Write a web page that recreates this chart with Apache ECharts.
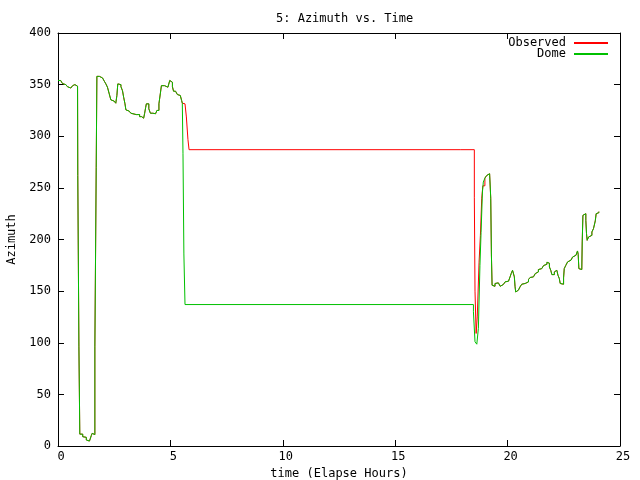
<!DOCTYPE html>
<html>
<head>
<meta charset="utf-8">
<script src="https://cdn.jsdelivr.net/npm/echarts@6/dist/echarts.min.js"></script>
<style>html,body{margin:0;padding:0;background:#fff}#c{width:640px;height:480px}</style>
</head>
<body>
<div id="c"></div>
<script>
const seriesNames = ['Observed', 'Dome'];
const xTicks = [0, 5, 10, 15, 20, 25];
const yTicks = [0, 50, 100, 150, 200, 250, 300, 350, 400];

// Shared part (both traces coincide)
const sharedStartHours = [0.00,0.05,0.12,0.20,0.28,0.35,0.42,0.50,0.57,0.65,0.69,0.75,0.81,0.87,0.88,0.93,0.97,1.10,1.18,1.26,1.33,1.40,1.45,1.48,1.52,1.60,1.64,1.70,1.73,1.84,1.91,1.98,2.06,2.13,2.20,2.28,2.35,2.43,2.50,2.57,2.62,2.66,2.73,2.80,2.87,2.92,2.98,3.02,3.10,3.17,3.24,3.31,3.48,3.63,3.72,3.81,3.85,3.90,3.93,4.00,4.04,4.11,4.22,4.34,4.40,4.49,4.55,4.60,4.67,4.74,4.82,4.89,4.97,5.04,5.09,5.14,5.23,5.31,5.38,5.44,5.50,5.53];
const sharedStartAz = [354,354,353,351,350,349.5,348,346.7,347,349,350,349,348.5,347.5,262,96,11.5,9,8.4,5.8,4.8,3.9,5.8,10,12.3,11,96,270,358,357.8,356.5,355,353.3,350.7,347.5,341,335.3,334,333,332,339.5,350.7,350,348,344,337.8,331.4,325.6,324.3,323.3,322.3,321,321,319,317.5,318.5,321.8,328,331.4,331.4,326.6,322.3,321.8,321.8,325,331.4,341,349,349,347.5,347.5,349,354,352.3,348,343.6,341.7,340.4,339.5,337.8,334.6,332];

// Dome-only middle part
const domeMidHours = [5.56,5.60,5.65,18.48,18.55,18.63,18.70,18.77,18.82,18.88,18.92];
const domeMidAz = [283,186,137,130,101,98.6,114,175,207,246,255.6];

// Observed-only middle part
const obsMidHours = [5.56,5.65,5.71,5.78,5.83,17.92,17.95,18.52,18.55,18.60,18.65,18.73,18.79,18.85,18.90];
const obsMidAz = [331.4,331.4,318.7,297,287,286,287,241,150,109,125,178,204,240,252];

// Shared end part
const sharedEndHours = [18.99,19.07,19.14,19.20,19.25,19.28,19.31,19.37,19.44,19.52,19.59,19.67,19.74,19.81,19.89,19.96,20.04,20.11,20.16,20.22,20.26,20.30,20.33,20.36,20.40,20.48,20.55,20.63,20.70,20.78,20.85,20.93,21.00,21.08,21.15,21.23,21.30,21.37,21.45,21.52,21.60,21.67,21.75,21.79,21.82,21.86,21.92,21.97,22.04,22.08,22.15,22.19,22.24,22.30,22.34,22.41,22.49,22.52,22.59,22.67,22.74,22.82,22.89,22.96,23.04,23.11,23.14,23.17,23.23,23.30,23.32,23.35,23.42,23.48,23.51,23.54,23.60,23.68,23.75,23.82,23.87,23.90,23.94,24.02,24.06];
const sharedEndAz = [259.5,262,263.7,265.3,240,185,155.7,154.7,157.4,158,158,154.7,156.4,157.4,159,159.6,161.2,163.8,167,170.2,170,163.8,154.7,149.2,150.9,152.5,154,156.7,157.4,157.4,159,161.2,163.2,163.8,164.8,167,168.6,170.9,171.8,173.4,174.8,176,178,179,177,173.4,170.2,166,166,168.6,170.2,170,165.4,162.2,157.4,156.7,162.8,171.8,175,178.3,180,181.5,183,184.7,186.4,188.9,185.7,171.8,170.9,170.9,197.6,223.4,225,218.6,205.7,199.2,202.4,204,207.3,210.5,212,218,225,226,227];

function pairs(h, v) { return h.map((t, i) => [t, v[i]]); }
const domeData = pairs(sharedStartHours, sharedStartAz).concat(pairs(domeMidHours, domeMidAz), pairs(sharedEndHours, sharedEndAz));
const obsData = pairs(sharedStartHours, sharedStartAz).concat(pairs(obsMidHours, obsMidAz), pairs(sharedEndHours, sharedEndAz));

const FONT = 'DejaVu Sans Mono';
const txt = { color: '#000', fontFamily: FONT, fontSize: 12 };
const line = { show: true, lineStyle: { color: '#000', width: 1 } };

function xAx(pos, labels) {
  return {
    type: 'value', position: pos, min: xTicks[0], max: xTicks[xTicks.length - 1], interval: 5,
    axisLine: Object.assign({ onZero: false }, line),
    axisTick: { show: true, inside: true, length: 6, lineStyle: { color: '#000' } },
    axisLabel: labels ? Object.assign({ show: true, margin: 5, padding: [0, 0, 0, 6] }, txt) : { show: false },
    splitLine: { show: false },
    name: labels ? 'time (Elapse Hours)' : '', nameLocation: 'middle', nameGap: 21, nameTextStyle: txt
  };
}
function yAx(pos, labels) {
  return {
    type: 'value', position: pos, min: yTicks[0], max: yTicks[yTicks.length - 1], interval: 50,
    axisLine: Object.assign({ onZero: false }, line),
    axisTick: { show: true, inside: true, length: 6, lineStyle: { color: '#000' } },
    axisLabel: labels ? Object.assign({ show: true, margin: 7 }, txt) : { show: false },
    splitLine: { show: false },
    name: labels ? 'Azimuth' : '', nameLocation: 'middle', nameGap: 40, nameRotate: 90, nameTextStyle: txt
  };
}

const chart = echarts.init(document.getElementById('c'), null, { renderer: 'canvas' });
chart.setOption({
  animation: false,
  backgroundColor: '#fff',
  title: { text: '5: Azimuth vs. Time', left: 271, top: 8, textStyle: Object.assign({ fontWeight: 'normal' }, txt) },
  grid: { left: 58, right: 20, top: 33, bottom: 34, containLabel: false, outerBoundsMode: 'none' },
  legend: {
    orient: 'vertical', right: 27, top: 32, align: 'right', itemGap: -1,
    itemWidth: 34, itemHeight: 2, icon: 'rect', textStyle: Object.assign({ lineHeight: 11, padding: [0, 3, 0, 0] }, txt),
    data: seriesNames
  },
  xAxis: [xAx('bottom', true), xAx('top', false)],
  yAxis: [yAx('left', true), yAx('right', false)],
  series: [
    { name: seriesNames[0], type: 'line', step: 'end', data: obsData, symbol: 'none', color: '#ff0000', lineStyle: { width: 1, color: '#ff0000' }, xAxisIndex: 0, yAxisIndex: 0 },
    { name: seriesNames[1], type: 'line', step: 'end', data: domeData, symbol: 'none', color: '#00c000', lineStyle: { width: 1, color: '#00c000' }, xAxisIndex: 0, yAxisIndex: 0 }
  ]
});
</script>
</body>
</html>
